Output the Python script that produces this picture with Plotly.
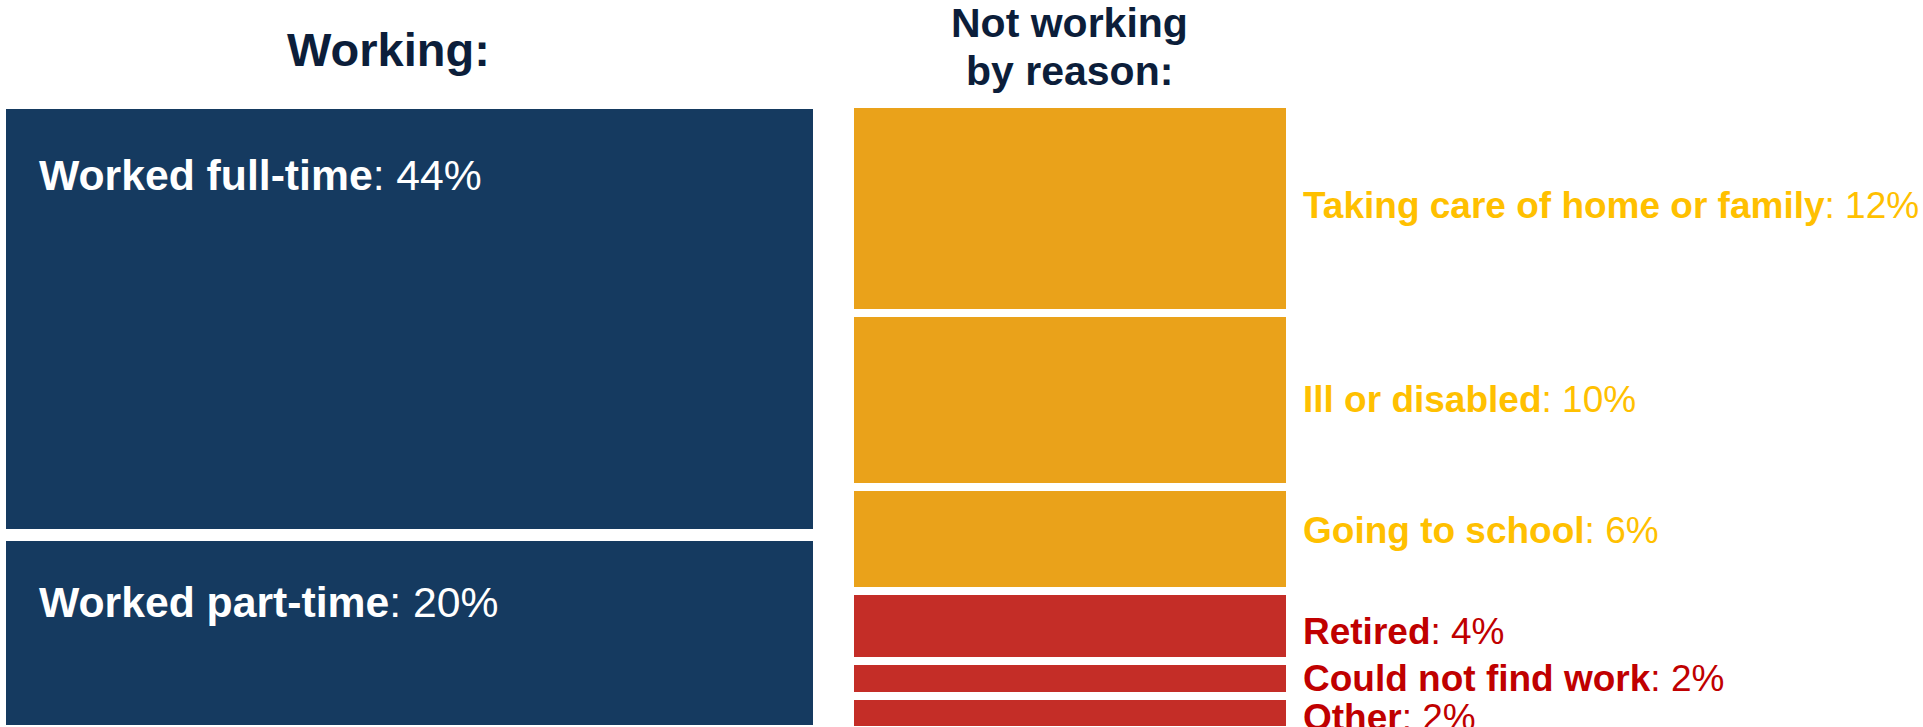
import plotly.graph_objects as go
from itertools import accumulate

# ---------------- data ----------------
working_labels = ["Worked full-time", "Worked part-time"]
working_values = [44, 20]

not_working_labels = ["Taking care of home or family", "Ill or disabled", "Going to school",
                      "Retired", "Could not find work", "Other"]
not_working_values = [12, 10, 6, 4, 2, 2]
not_working_groups = ["home", "home", "home", "other", "other", "other"]

title_working = "Working:"
title_not_working = ["Not working", "by reason:"]

# ---------------- styles ----------------
W, H = 1923, 727
FONT = "Liberation Sans, Arial, Helvetica, sans-serif"
NAVY = "#153A60"
ORANGE = "#EAA21A"
RED = "#C42D27"
ORANGE_TXT = "#FFC000"
RED_TXT = "#C00000"
TITLE_COL = "#0C1E3A"
bar_color = {"home": ORANGE, "other": RED}
text_color = {"home": ORANGE_TXT, "other": RED_TXT}


def starts(vals):
    return [0] + list(accumulate(vals))[:-1]


w_base = starts(working_values)
n_base = starts(not_working_values)

fig = go.Figure()
fig.add_trace(go.Bar(
    x=[0] * len(working_values), y=working_values, base=w_base, width=1,
    marker=dict(color=NAVY, line=dict(color="white", width=12)),
    xaxis="x", yaxis="y", hoverinfo="skip", showlegend=False))
fig.add_trace(go.Bar(
    x=[0] * len(not_working_values), y=not_working_values, base=n_base, width=1,
    marker=dict(color=[bar_color[g] for g in not_working_groups],
                line=dict(color="white", width=8)),
    xaxis="x2", yaxis="y2", hoverinfo="skip", showlegend=False))

annotations = []
# labels inside the working bars (near the top of each)
left_drop = {"Worked full-time": 72, "Worked part-time": 67}
for lab, val, b in zip(working_labels, working_values, w_base):
    annotations.append(dict(
        xref="x", yref="y", x=-0.5, y=b, xanchor="left", yanchor="middle",
        xshift=37, yshift=-left_drop[lab], showarrow=False,
        text=f"<b>{lab}</b>: {val}%",
        font=dict(family=FONT, size=42.7, color="white")))

# labels to the right of the not-working bars
nudge = {"Taking care of home or family": 3, "Going to school": 9, "Retired": -6, "Other": -5}
for lab, val, b, g in zip(not_working_labels, not_working_values, n_base, not_working_groups):
    annotations.append(dict(
        xref="x2", yref="y2", x=0.5, y=b + val / 2, xanchor="left", yanchor="middle",
        xshift=11, yshift=nudge.get(lab, 0), showarrow=False,
        text=f"<b>{lab}</b>: {val}%",
        font=dict(family=FONT, size=37, color=text_color[g])))

# column titles
annotations.append(dict(
    xref="paper", yref="paper", x=388 / W, y=1 - 50 / H, xanchor="center", yanchor="middle",
    showarrow=False, text=f"<b>{title_working}</b>",
    font=dict(family=FONT, size=47, color=TITLE_COL)))
for line, cy in zip(title_not_working, [23, 71]):
    annotations.append(dict(
        xref="paper", yref="paper", x=1069 / W, y=1 - cy / H, xanchor="center", yanchor="middle",
        showarrow=False, text=f"<b>{line}</b>",
        font=dict(family=FONT, size=41, color=TITLE_COL)))

axis_off = dict(visible=False, showgrid=False, zeroline=False, fixedrange=True)
fig.update_layout(
    width=W, height=H,
    margin=dict(l=0, r=0, t=0, b=0, pad=0),
    paper_bgcolor="white", plot_bgcolor="white",
    barmode="overlay", bargap=0,
    xaxis=dict(domain=[0, 819 / W], range=[-0.5, 0.5], anchor="y", **axis_off),
    yaxis=dict(domain=[0, 1], range=[63.55, -10.49], anchor="x", **axis_off),
    xaxis2=dict(domain=[850 / W, 1290 / W], range=[-0.5, 0.5], anchor="y2", **axis_off),
    yaxis2=dict(domain=[0, 1], range=[35.81, -6.0], anchor="x2", **axis_off),
    annotations=annotations,
    hovermode=False,
    font=dict(family=FONT),
)

fig.write_html("out.html", config={"displayModeBar": False},
               post_script="document.body.style.margin='0';document.body.style.overflow='hidden';")
